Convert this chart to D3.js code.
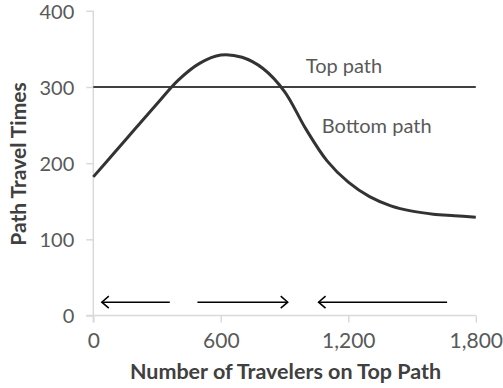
<!DOCTYPE html>
<html><head><meta charset="utf-8">
<script src="https://cdn.jsdelivr.net/npm/d3@7"></script>
<style>body{margin:0;background:#fff}svg{display:block}text{font-family:Lato,"Open Sans",sans-serif}</style>
</head><body><svg id="c" width="503" height="388"></svg>
<script>
const travelers = [0,100,200,300,400,500,600,700,800,900,1000,1100,1200,1300,1400,1500,1600,1700,1800];
const bottomPath = [182,214,246,278,309,331,342,339,324,294,245,203,175,156,144,137,133,131,129];
const topPath = [300,300];
const topX = [0,1800];
const xTicks = [0,600,1200,1800];
const yTicks = [0,100,200,300,400];
const arrows = [{from:360,to:40,y:17.5},{from:490,to:915,y:17.5},{from:1665,to:1060,y:17.5}];
const labels = [{text:"Top path",x:1000,y:318},{text:"Bottom path",x:1075,y:240}];

const svg = d3.select("#c");
const x = d3.scaleLinear().domain([0,1800]).range([93.3,475.8]);
const y = d3.scaleLinear().domain([0,400]).range([315.5,10.8]);

const xAxis = svg.append("g").attr("transform",`translate(0,${y(0)})`)
  .call(d3.axisBottom(x).tickValues(xTicks).tickFormat(d3.format(",")).tickSize(7).tickSizeOuter(0));
const yAxis = svg.append("g").attr("transform",`translate(${x(0)},0)`)
  .call(d3.axisLeft(y).tickValues(yTicks).tickSize(7).tickSizeOuter(0));
[xAxis,yAxis].forEach(a=>{
  a.select(".domain").attr("stroke","#d9d9d9").attr("stroke-width",1.5);
  a.selectAll(".tick line").attr("stroke","#d9d9d9").attr("stroke-width",1.5);
  a.selectAll(".tick text").attr("fill","#595959").style("font-family","Lato");
});
xAxis.selectAll(".tick text").style("font-size","21px");
yAxis.selectAll(".tick text").style("font-size","20px");
xAxis.select(".domain").attr("d",`M${x(0)-7},0H${x(1800)}`);
yAxis.select(".domain").attr("d",`M0,${y(400)}V${y(0)+7}`);
xAxis.selectAll(".tick text").attr("dy",null).attr("y",32);
yAxis.selectAll(".tick text").attr("x",-19).attr("dy","0.36em");

// top path
svg.append("path").datum(topX.map((d,i)=>[d,topPath[i]]))
  .attr("d",d3.line().x(d=>x(d[0])).y(d=>y(d[1])))
  .attr("fill","none").attr("stroke","#404040").attr("stroke-width",2);
// bottom path
svg.append("path").datum(travelers.map((d,i)=>[d,bottomPath[i]]))
  .attr("d",d3.line().curve(d3.curveCatmullRom.alpha(0.5)).x(d=>x(d[0])).y(d=>y(d[1])))
  .attr("fill","none").attr("stroke","#333").attr("stroke-width",3).attr("stroke-linejoin","round");

labels.forEach(l=>svg.append("text").attr("x",x(l.x)).attr("y",y(l.y))
  .attr("fill","#595959").style("font-size","20px").text(l.text));

// arrows
arrows.forEach(a=>{
  const y0=y(a.y), x1=x(a.from), x2=x(a.to), dir=Math.sign(x2-x1);
  svg.append("line").attr("x1",x1).attr("x2",x2).attr("y1",y0).attr("y2",y0)
    .attr("stroke","#000").attr("stroke-width",1.5);
  svg.append("path").attr("d",`M${x2-dir*7},${y0-6}L${x2},${y0}L${x2-dir*7},${y0+6}`)
    .attr("fill","none").attr("stroke","#000").attr("stroke-width",1.5);
});

svg.append("text").attr("x",285.5).attr("y",379).attr("text-anchor","middle")
  .attr("fill","#404040").style("font-size","21.5px").style("font-weight","bold").text("Number of Travelers on Top Path");
svg.append("text").attr("transform",`translate(26,164)rotate(-90)`)
  .attr("text-anchor","middle").attr("fill","#404040").style("font-size","21px").style("font-weight","bold").text("Path Travel Times");
</script></body></html>
